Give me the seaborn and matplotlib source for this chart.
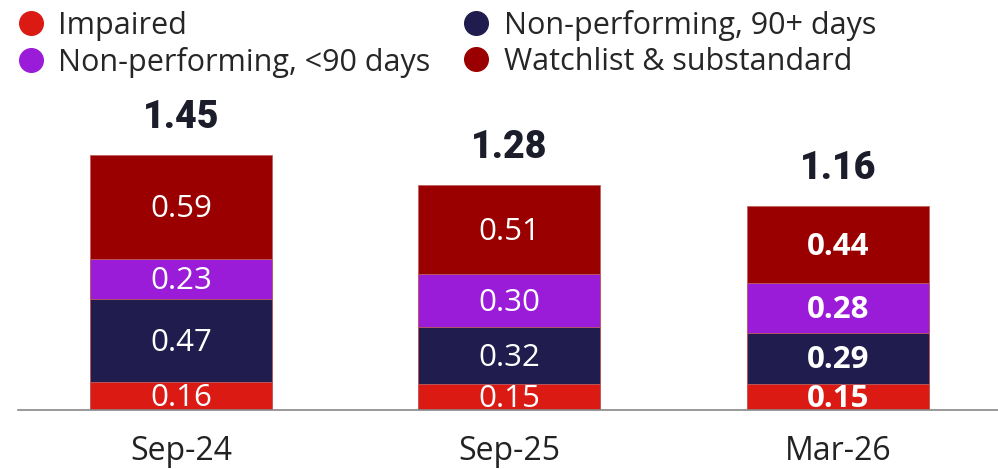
import matplotlib
matplotlib.use("Agg")
import matplotlib.pyplot as plt
from matplotlib.lines import Line2D
import seaborn as sns
import numpy as np
import pandas as pd

periods = ["Sep-24", "Sep-25", "Mar-26"]
series_names = ["Impaired", "Non-performing, 90+ days", "Non-performing, <90 days", "Watchlist & substandard"]
impaired = [0.16, 0.15, 0.15]
np_90plus = [0.47, 0.32, 0.29]
np_lt90 = [0.23, 0.30, 0.28]
watchlist = [0.59, 0.51, 0.44]
totals = [1.45, 1.28, 1.16]
colors = ["#DC1A14", "#201C4E", "#9A1CD8", "#9B0000"]

sns.set_theme(style="white")
plt.rcParams["font.family"] = ["Open Sans", "DejaVu Sans"]

fig = plt.figure(figsize=(9.98, 4.69), dpi=100)
ax = fig.add_axes([18 / 998, 59 / 469, 980 / 998, 310 / 469])

layers = [impaired, np_90plus, np_lt90, watchlist]
cum = np.cumsum(np.array(layers), axis=0)
for i in range(len(layers) - 1, -1, -1):
    df = pd.DataFrame({"period": periods, "value": cum[i]})
    sns.barplot(data=df, x="period", y="value", color=colors[i], width=0.554,
                saturation=1, ax=ax, edgecolor="#c06060", linewidth=0.6)

for j in range(len(periods)):
    bold = "bold" if j == 2 else "normal"
    for i in range(len(layers)):
        bottom = cum[i - 1][j] if i > 0 else 0
        mid = bottom + layers[i][j] / 2
        ax.text(j, mid - 0.012, f"{layers[i][j]:.2f}", ha="center", va="center",
                color="white", fontsize=22.5, fontweight=bold)
    ax.text(j, totals[j] + 0.21, f"{totals[j]:.2f}", ha="center", va="center",
            color="#1b1d2b", fontsize=27, fontweight="heavy",
            family=["Roboto", "DejaVu Sans"])

ax.set_xlim(-0.496, 2.487)
ax.set_ylim(0, 310 / 176)
ax.set_xlabel("")
ax.set_ylabel("")
ax.set_yticks([])
ax.tick_params(axis="x", length=0, pad=18, labelsize=23, labelcolor="#222222")
for s in ["top", "right", "left"]:
    ax.spines[s].set_visible(False)
ax.spines["bottom"].set_color("#888888")
ax.spines["bottom"].set_linewidth(1.2)

handles = [Line2D([], [], marker="o", linestyle="", markersize=17,
                  markerfacecolor=c, markeredgecolor=c) for c in colors]
order = [0, 2, 1, 3]
fig.legend([handles[k] for k in order], [series_names[k] for k in order],
           ncol=2, loc="upper left", bbox_to_anchor=(0.0, 1.005), frameon=False,
           fontsize=22, handletextpad=0.3, columnspacing=0.9, labelspacing=0.2,
           handlelength=1.2, borderaxespad=0.0)

fig.savefig("out.png", dpi=100)
